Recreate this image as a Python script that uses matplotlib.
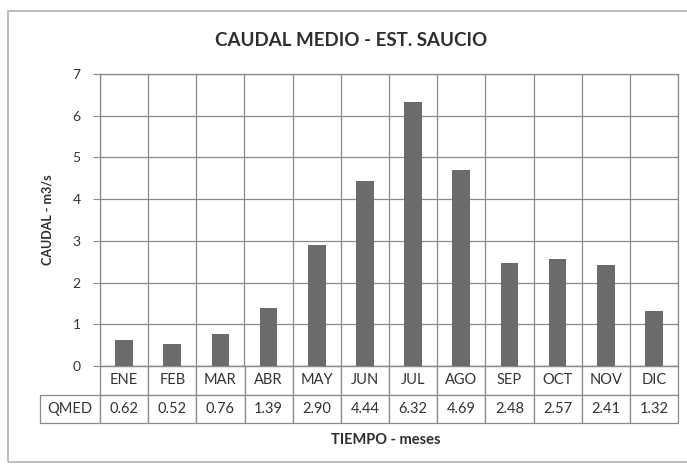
import matplotlib.pyplot as plt
from matplotlib.patches import Rectangle

# data
meses = ["ENE", "FEB", "MAR", "ABR", "MAY", "JUN", "JUL", "AGO", "SEP", "OCT", "NOV", "DIC"]
qmed = [0.62, 0.52, 0.76, 1.39, 2.90, 4.44, 6.32, 4.69, 2.48, 2.57, 2.41, 1.32]
yticks = [0, 1, 2, 3, 4, 5, 6, 7]

plt.rcParams['font.family'] = ['Lato', 'DejaVu Sans']

W, H = 687, 465
fig = plt.figure(figsize=(W / 100, H / 100), dpi=100)

# outer chart frame (excel style), runs off the right edge
fig.patches.append(Rectangle((8 / W, 3 / H), 690 / W, 451 / H, transform=fig.transFigure,
                             fill=False, edgecolor='#bdbdbd', linewidth=1.4))

left, right, top, bottom = 100, 678, 74, 366
ax = fig.add_axes([left / W, (H - bottom) / H, (right - left) / W, (bottom - top) / H])

x = list(range(len(meses)))
ax.bar(x, qmed, width=0.37, color='#6b6b6b', zorder=3)

ax.set_xlim(-0.5, len(meses) - 0.5)
ax.set_ylim(0, 7)
ax.set_yticks(yticks)
ax.tick_params(axis='y', length=5, color='#8a8a8a', labelsize=10, pad=9, labelcolor='#333333')
ax.set_xticks([])

# gridlines
for v in yticks:
    ax.axhline(v, color='#8a8a8a', linewidth=0.9, zorder=1)
for i in range(len(meses) + 1):
    ax.axvline(i - 0.5, color='#8a8a8a', linewidth=0.9, zorder=1)
for s in ax.spines.values():
    s.set_color('#8a8a8a')
    s.set_linewidth(0.9)

# data table under the axis
pw = right - left
ph = bottom - top
lab_w = 60
tab_h = 57
cells = [[''] + meses, ['QMED'] + ['%.2f' % v for v in qmed]]
widths = [lab_w] + [pw / 12] * 12
tw = sum(widths)
tbl = ax.table(cellText=cells, colWidths=[w / tw for w in widths],
               bbox=[-lab_w / pw, -tab_h / ph, tw / pw, tab_h / ph], cellLoc='center')
tbl.auto_set_font_size(False)
for (r, c), cell in tbl.get_celld().items():
    cell.set_edgecolor('#8a8a8a')
    cell.set_linewidth(0.9)
    cell.get_text().set_fontsize(10.5)
    cell.get_text().set_color('#333333')
    if r == 0 and c == 0:
        cell.visible_edges = ''

fig.text(351 / W, 1 - 40 / H, "CAUDAL MEDIO - EST. SAUCIO", ha='center', va='center',
         fontsize=13.5, fontweight='bold', color='#2e2e2e')
fig.text(48 / W, 1 - 220 / H, "CAUDAL - m3/s", ha='center', va='center', rotation=90,
         fontsize=9, fontweight='bold', color='#2e2e2e')
fig.text(386 / W, 1 - 440 / H, "TIEMPO - meses", ha='center', va='center',
         fontsize=10.5, fontweight='bold', color='#2e2e2e')

fig.savefig("out.png", dpi=100)
